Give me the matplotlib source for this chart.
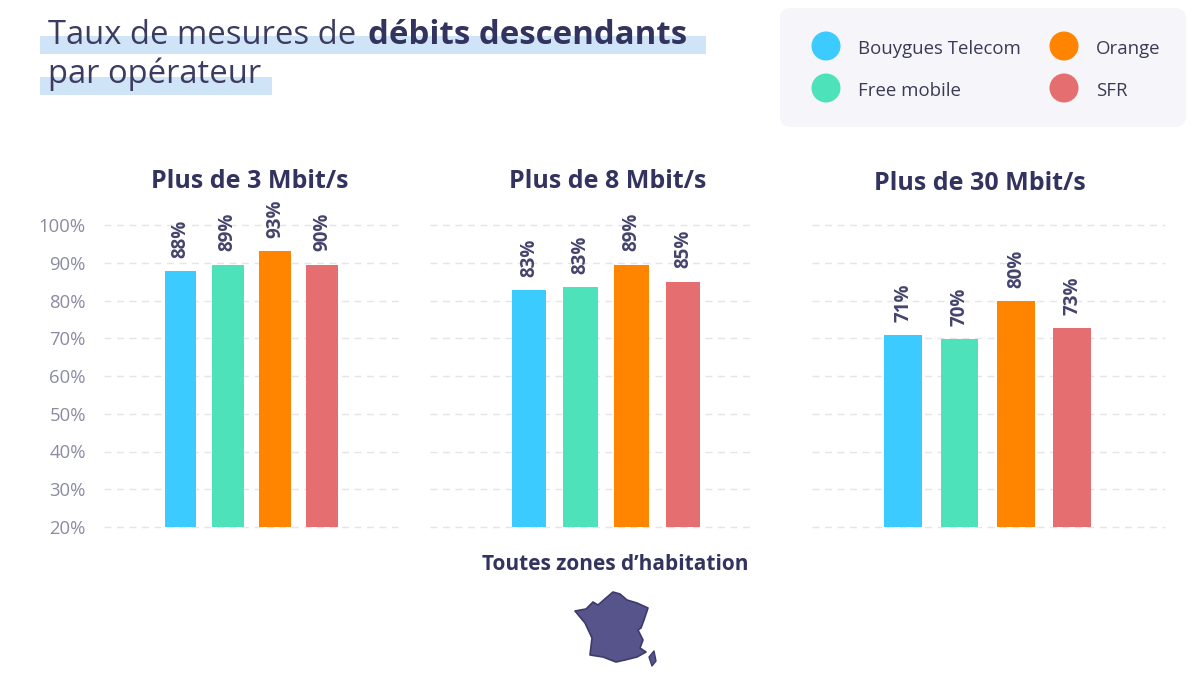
import matplotlib
matplotlib.use('Agg')
import matplotlib.pyplot as plt
from matplotlib.patches import Circle, FancyBboxPatch, Polygon, Rectangle

plt.rcParams['font.family'] = ['Open Sans', 'DejaVu Sans']

# DATA
operators = ['Bouygues Telecom', 'Free mobile', 'Orange', 'SFR']
panel_titles = ['Plus de 3 Mbit/s', 'Plus de 8 Mbit/s', 'Plus de 30 Mbit/s']
values_3 = [87.8, 89.5, 93.0, 89.5]
values_8 = [82.8, 83.5, 89.5, 85.0]
values_30 = [70.9, 69.8, 79.9, 72.7]
labels_3 = ['88%', '89%', '93%', '90%']
labels_8 = ['83%', '83%', '89%', '85%']
labels_30 = ['71%', '70%', '80%', '73%']
y_ticks = [20, 30, 40, 50, 60, 70, 80, 90, 100]
colors = ['#3bcbff', '#4de2b9', '#ff8500', '#e56f70']

NAVY = '#33335f'
W, H = 1200, 682

# France outline, pixels of the picture
france = [(613, 592), (620, 594), (627, 600), (637, 603), (648, 608), (644, 620), (641, 628),
          (638, 630), (643, 640), (640, 648), (646, 652), (637, 657), (625, 660), (616, 662),
          (603, 657), (590, 655), (592, 638), (585, 623), (575, 611), (586, 609), (593, 602),
          (598, 605), (606, 598)]
corsica = [(654, 651), (656, 661), (652, 666), (649, 657)]

fig = plt.figure(figsize=(12, 6.82), dpi=100, facecolor='white')

# background layer in pixels: title bands, legend, map
bg = fig.add_axes([0, 0, 1, 1], zorder=0)
bg.set_xlim(0, W)
bg.set_ylim(H, 0)
bg.axis('off')

bg.add_patch(Rectangle((40, 36), 666, 18, color='#cfe4f6', lw=0))
bg.add_patch(Rectangle((40, 77), 232, 18, color='#cfe4f6', lw=0))
bg.text(48, 35, 'Taux de mesures de ', fontsize=23.6, color='#3c3c62', va='center')
bg.text(368, 35, 'débits descendants', fontsize=23.8, fontweight='bold', color=NAVY, va='center')
bg.text(48, 74, 'par opérateur', fontsize=23.6, color='#3c3c62', va='center')

bg.add_patch(FancyBboxPatch((780, 8), 406, 119, boxstyle='round,pad=0,rounding_size=11',
                            mutation_aspect=1, fc='#f5f5fa', lw=0))
legend_x = [826, 826, 1064, 1064]
legend_y = [46, 88, 46, 88]
for name, col, lx, ly in zip(operators, colors, legend_x, legend_y):
    bg.add_patch(Circle((lx, ly), 14.5, color=col, lw=0))
    bg.text(lx + 32, ly + 2.5, name, fontsize=13.4, color='#3a3a55', va='center')

bg.text(615, 564, 'Toutes zones d’habitation', fontsize=15, fontweight='bold', color=NAVY,
        ha='center', va='center')
bg.add_patch(Polygon(france, closed=True, fc='#56548a', ec='#3c3b6b', lw=1.2, joinstyle='round'))
bg.add_patch(Polygon(corsica, closed=True, fc='#56548a', ec='#3c3b6b', lw=1, joinstyle='round'))

# one axes per speed threshold
panels = [
    (values_3, labels_3, 104, 398, (-1.617, 4.6), 249.5, 181),
    (values_8, labels_8, 430, 755, (-1.93, 4.405), 608, 182),
    (values_30, labels_30, 812, 1165, (-1.62, 4.645), 980, 184),
]

for i, (vals, labs, x0, x1, xlim, tx, ty) in enumerate(panels):
    ax = fig.add_axes([x0 / W, (H - 527) / H, (x1 - x0) / W, 302 / H], zorder=1)
    ax.patch.set_alpha(0)
    ax.set_xlim(*xlim)
    ax.set_ylim(20, 100)
    ax.bar(range(4), vals, width=0.67, color=colors, zorder=3)
    ax.set_yticks(y_ticks)
    ax.yaxis.grid(True, color='#e4e4ea', lw=1, linestyle=(0, (5, 4)), clip_on=False)
    ax.set_axisbelow(True)
    ax.set_xticks([])
    for s in ax.spines.values():
        s.set_visible(False)
    if i == 0:
        ax.set_yticklabels([f'{t}%' for t in y_ticks], fontsize=13.3, color='#8b8ba3')
        ax.tick_params(axis='y', length=0, pad=13)
    else:
        ax.tick_params(axis='y', length=0, labelleft=False)
    for k, (v, lab) in enumerate(zip(vals, labs)):
        ax.annotate(lab, (k, v), xytext=(0, 9.5), textcoords='offset points', rotation=90,
                    ha='center', va='bottom', fontsize=13.5, fontweight='bold', color='#43436c')
    bg.text(tx, ty, panel_titles[i], fontsize=18, fontweight='bold', color=NAVY,
            ha='center', va='center')

fig.savefig('out.png', dpi=100)
